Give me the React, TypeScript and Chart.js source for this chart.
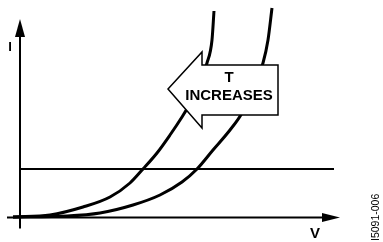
import React, { useEffect, useRef } from "react";
import { Chart, registerables } from "chart.js";

Chart.register(...registerables);

// Schematic I–V curves (arbitrary units, origin at axis crossing)
const curveLowT_V = [-7, 30, 63, 90, 110, 123, 137, 150, 162, 168, 178, 187, 192, 194];
const curveLowT_I = [0.5, 2.5, 10.5, 20.5, 34.5, 48.5, 64.5, 82.5, 100.5, 110.5, 131, 154.5, 177.5, 206.5];
const curveHighT_V = [-7, 47, 80, 113, 140, 162, 177, 193, 210, 222, 233, 243, 248, 252];
const curveHighT_I = [0.5, 1.5, 4.5, 12.5, 22.5, 35.5, 48.5, 67.5, 87.5, 104.5, 129, 154.5, 177.5, 209.5];
const refLine_V = [0, 314];
const refLine_I = [48.5, 48.5];
const axisLabels = ["I", "V"];
const arrowLabel = ["T", "INCREASES"];
const figureId = "I5091-006";

const FONT = "'Liberation Sans', Arial, Helvetica, sans-serif";

const pts = (xs: number[], ys: number[]) => xs.map((x, i) => ({ x, y: ys[i] }));

const overlay = {
  id: "overlay",
  beforeDatasetsDraw(chart: any) {
    const { ctx } = chart;
    const xs = chart.scales.x;
    const ys = chart.scales.y;
    const px = (v: number) => xs.getPixelForValue(v);
    const py = (v: number) => ys.getPixelForValue(v);
    ctx.save();
    ctx.strokeStyle = "#000";
    ctx.fillStyle = "#000";
    ctx.lineWidth = 2;
    // y axis
    ctx.beginPath();
    ctx.moveTo(px(0), py(-11));
    ctx.lineTo(px(0), py(182));
    ctx.stroke();
    ctx.beginPath();
    ctx.moveTo(px(0), py(198.5));
    ctx.lineTo(px(-5), py(180.5));
    ctx.lineTo(px(5), py(180.5));
    ctx.closePath();
    ctx.fill();
    // x axis
    ctx.beginPath();
    ctx.moveTo(px(-13), py(0));
    ctx.lineTo(px(305), py(0));
    ctx.stroke();
    ctx.beginPath();
    ctx.moveTo(px(320), py(0));
    ctx.lineTo(px(302), py(4.5));
    ctx.lineTo(px(302), py(-4.5));
    ctx.closePath();
    ctx.fill();
    // axis labels
    ctx.textAlign = "center";
    ctx.textBaseline = "middle";
    ctx.font = `bold 13px ${FONT}`;
    ctx.fillText(axisLabels[0], px(-10), py(170));
    ctx.font = `bold 15px ${FONT}`;
    ctx.fillText(axisLabels[1], px(295), py(-16.5));
    // figure id rotated
    ctx.save();
    ctx.translate(px(356), py(-23.5));
    ctx.rotate(-Math.PI / 2);
    ctx.font = `10.5px ${FONT}`;
    ctx.textAlign = "left";
    ctx.textBaseline = "middle";
    ctx.fillText(figureId, 0, 0);
    ctx.restore();
    ctx.restore();
  },
  afterDatasetsDraw(chart: any) {
    const { ctx } = chart;
    const xs = chart.scales.x;
    const ys = chart.scales.y;
    const px = (v: number) => xs.getPixelForValue(v);
    const py = (v: number) => ys.getPixelForValue(v);
    ctx.save();
    ctx.beginPath();
    ctx.moveTo(px(148), py(128.5));
    ctx.lineTo(px(182), py(165.5));
    ctx.lineTo(px(182), py(152.5));
    ctx.lineTo(px(258), py(152.5));
    ctx.lineTo(px(258), py(102.5));
    ctx.lineTo(px(182), py(102.5));
    ctx.lineTo(px(182), py(89.5));
    ctx.closePath();
    ctx.fillStyle = "#fff";
    ctx.fill();
    ctx.lineWidth = 1.5;
    ctx.strokeStyle = "#000";
    ctx.stroke();
    ctx.fillStyle = "#000";
    ctx.font = `bold 15px ${FONT}`;
    ctx.textAlign = "center";
    ctx.textBaseline = "middle";
    ctx.fillText(arrowLabel[0], px(209), py(139.5));
    ctx.fillText(arrowLabel[1], px(209), py(121.5));
    ctx.restore();
  },
};

export default function App() {
  const ref = useRef<HTMLCanvasElement | null>(null);
  useEffect(() => {
    if (!ref.current) return;
    const chart = new Chart(ref.current, {
      type: "line",
      data: {
        datasets: [
          {
            data: pts(refLine_V, refLine_I),
            borderColor: "#000",
            borderWidth: 2,
            pointRadius: 0,
            tension: 0,
          },
          {
            data: pts(curveLowT_V, curveLowT_I),
            borderColor: "#000",
            borderWidth: 3,
            pointRadius: 0,
            cubicInterpolationMode: "monotone",
          },
          {
            data: pts(curveHighT_V, curveHighT_I),
            borderColor: "#000",
            borderWidth: 3,
            pointRadius: 0,
            cubicInterpolationMode: "monotone",
          },
        ],
      },
      options: {
        animation: false,
        responsive: false,
        layout: { padding: 0 },
        plugins: { legend: { display: false }, tooltip: { enabled: false }, title: { display: false } },
        scales: {
          x: { type: "linear", min: -20, max: 363, display: false },
          y: { type: "linear", min: -24.5, max: 217.5, display: false },
        },
      },
      plugins: [overlay],
    } as any);
    return () => chart.destroy();
  }, []);
  return (
    <div style={{ position: "absolute", left: 0, top: 0, width: 383, height: 242, background: "#fff" }}>
      <canvas ref={ref} width={383} height={242} style={{ width: 383, height: 242, display: "block" }} />
    </div>
  );
}
